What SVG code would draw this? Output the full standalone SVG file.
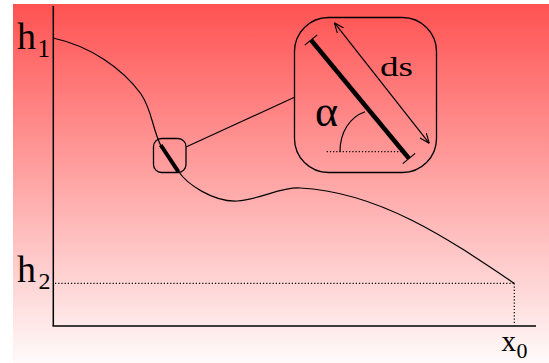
<svg xmlns="http://www.w3.org/2000/svg" width="549" height="363" viewBox="0 0 549 363">
  <defs>
    <linearGradient id="bg" x1="0" y1="0" x2="0" y2="1">
      <stop offset="0" stop-color="#FF5252"/>
      <stop offset="1" stop-color="#FFFAFA"/>
    </linearGradient>
    <marker id="vh" viewBox="0 0 10 10" refX="10" refY="5" markerWidth="10" markerHeight="10" markerUnits="userSpaceOnUse" orient="auto-start-reverse">
      <path d="M0,1 L10,5 L0,9" fill="none" stroke="#000" stroke-width="1.1"/>
    </marker>
    <style>
      .ln { fill: none; stroke: #000; stroke-width: 1.2; }
      .ax { fill: none; stroke: #000; stroke-width: 1.5; }
      .dot { fill: none; stroke: #000; stroke-width: 1.2; stroke-dasharray: 1.2 2; }
      .thick { stroke: #000; stroke-linecap: butt; }
      .box { fill: none; stroke: #000; stroke-width: 1.3; }
      text { font-family: 'Liberation Serif', 'DejaVu Serif', serif; fill: #000; }
    </style>
  </defs>

  <rect x="13" y="4" width="536" height="359" fill="url(#bg)"/>

  <g id="axes">
    <line class="ax" x1="53.3" y1="6" x2="53.3" y2="326"/>
    <line class="ax" x1="52.5" y1="326" x2="536" y2="326"/>
    <line class="dot" x1="55" y1="283.3" x2="514.3" y2="283.3"/>
    <line class="dot" x1="514.3" y1="283.3" x2="514.3" y2="324"/>
  </g>

  <g id="labels">
    <text x="17" y="49.3" font-size="38">h</text>
    <text x="37.5" y="56.7" font-size="25">1</text>
    <text x="17" y="281.7" font-size="38">h</text>
    <text x="38.5" y="289.3" font-size="24">2</text>
    <text x="501.5" y="351" font-size="29">x</text>
    <text x="516.5" y="357.5" font-size="22">0</text>
  </g>

  <g id="curve">
    <path class="ln" d="M53,38 C90,46 122,68 141,94 C152,110 152,128 161,146 L179,172 C187,184 213,202 237,201 C262,199 280,187 300,188 C380,192 450,240 514.3,283.3"/>
  </g>

  <g id="segment-box">
    <rect class="box" x="153.5" y="138.5" width="32.5" height="34" rx="8" ry="8"/>
    <line class="thick" x1="160.7" y1="145" x2="178.3" y2="171.7" stroke-width="4"/>
  </g>

  <g id="detail-box">
    <rect class="box" x="294.5" y="17.5" width="142" height="155" rx="34" ry="34"/>
    <line class="thick" x1="311" y1="40" x2="409" y2="158.5" stroke-width="4.5"/>
    <line class="ln" x1="304.8" y1="45.1" x2="317.2" y2="34.9"/>
    <line class="ln" x1="402.8" y1="163.6" x2="415.2" y2="153.4"/>
    <line class="dot" x1="326.7" y1="151.7" x2="402" y2="151.7"/>
    <path class="ln" d="M340,151.7 C340,132 350,117 365,111.7"/>
    <line class="ln" x1="334.3" y1="22.7" x2="429.3" y2="143.3" marker-start="url(#vh)" marker-end="url(#vh)"/>
    <text x="380" y="75.7" font-size="28" textLength="33" lengthAdjust="spacingAndGlyphs">ds</text>
    <text x="315" y="126" font-size="44">α</text>
  </g>

  <g id="connectors">
    <line class="ln" x1="186" y1="147" x2="295" y2="97"/>
  </g>
</svg>
